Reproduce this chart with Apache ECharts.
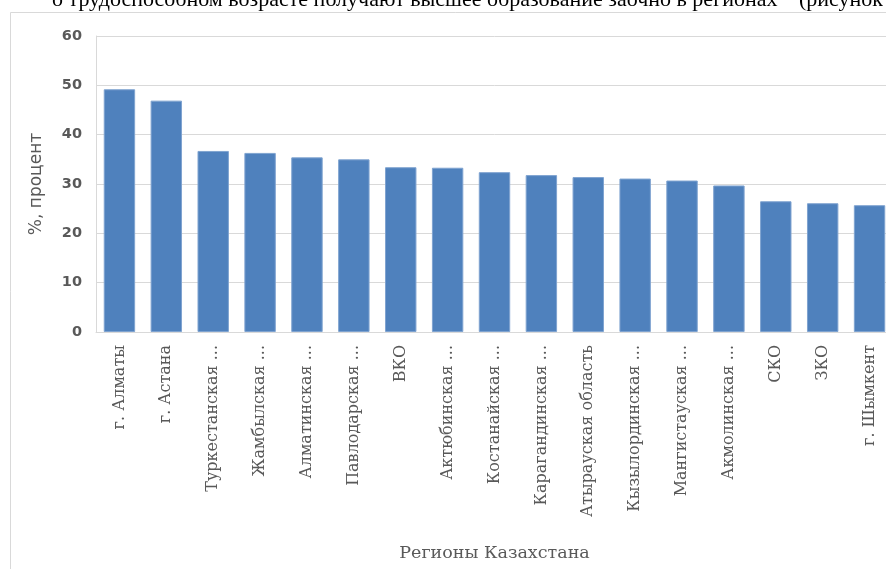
<!DOCTYPE html>
<html>
<head>
<meta charset="utf-8">
<script src="https://cdn.jsdelivr.net/npm/echarts@6/dist/echarts.min.js"></script>
<style>
  html, body { margin: 0; padding: 0; overflow: hidden; background: #fff; }
  #chart { width: 900px; height: 569px; }
</style>
</head>
<body>
<div id="chart"></div>
<script>
// регионы и значения
const regions = [
  'г. Алматы', 'г. Астана', 'Туркестанская ...', 'Жамбылская ...',
  'Алматинская ...', 'Павлодарская ...', 'ВКО', 'Актюбинская ...',
  'Костанайская ...', 'Карагандинская ...', 'Атырауская область',
  'Кызылординская ...', 'Мангистауская ...', 'Акмолинская ...',
  'СКО', 'ЗКО', 'г. Шымкент'
]
const percents = [49.2, 46.9, 36.7, 36.3, 35.4, 35.0, 33.4, 33.3, 32.4, 31.8, 31.4, 31.1, 30.7, 29.7, 26.5, 26.1, 25.7]
const yTicks = { min: 0, max: 60, step: 10 }

const chart = echarts.init(document.getElementById('chart'))

const option = {
  animation: false,
  graphic: [
    // обрезанная строка текста над диаграммой
    {
      type: 'text',
      x: 52,
      y: -11,
      style: {
        text: 'о трудоспособном возрасте получают высшее образование заочно в регионах',
        font: '22px "Liberation Serif"',
        fill: '#000'
      }
    },
    {
      type: 'text',
      x: 799,
      y: -11,
      style: {
        text: '(рисунок 3)',
        font: '22px "Liberation Serif"',
        fill: '#000'
      }
    },
    // рамка диаграммы
    {
      type: 'rect',
      shape: { x: 10.5, y: 12.5, width: 1000, height: 700 },
      style: { fill: '#fff', stroke: '#d9d9d9', lineWidth: 1 },
      z: -1,
      silent: true
    }
  ],
  grid: {
    left: 96,
    right: 7,
    top: 36,
    bottom: 237
  },
  xAxis: {
    type: 'category',
    data: regions,
    name: 'Регионы Казахстана',
    nameLocation: 'middle',
    nameGap: 221,
    nameTextStyle: {
      color: '#595959',
      fontSize: 17.5,
      fontFamily: 'DejaVu Serif',
      verticalAlign: 'middle'
    },
    axisLine: { lineStyle: { color: '#d9d9d9' } },
    axisTick: { show: false },
    axisLabel: {
      rotate: 90,
      interval: 0,
      margin: 13,
      color: '#595959',
      fontSize: 16,
      fontFamily: 'DejaVu Serif'
    }
  },
  yAxis: {
    type: 'value',
    min: yTicks.min,
    max: yTicks.max,
    interval: yTicks.step,
    name: '%, процент',
    nameLocation: 'middle',
    nameGap: 51,
    nameTextStyle: {
      color: '#595959',
      fontSize: 17,
      fontFamily: 'DejaVu Sans'
    },
    axisLine: { show: true, lineStyle: { color: '#d9d9d9' } },
    axisTick: { show: false },
    axisLabel: {
      margin: 14,
      color: '#595959',
      fontSize: 14.5,
      fontWeight: 'bold',
      fontFamily: 'DejaVu Sans'
    },
    splitLine: { lineStyle: { color: '#d9d9d9' } }
  },
  series: [
    {
      type: 'bar',
      data: percents,
      barCategoryGap: '33%',
      itemStyle: {
        color: '#4f81bd',
        borderColor: '#7fa3d0',
        borderWidth: 1
      }
    }
  ]
}

chart.setOption(option)
</script>
</body>
</html>
